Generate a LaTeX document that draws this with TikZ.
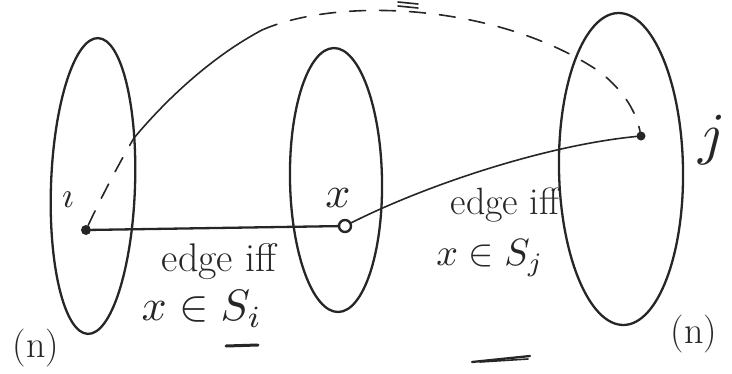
\documentclass[tikz,border=0pt]{standalone}
\usetikzlibrary{shapes.geometric}
\newcommand{\sketchmath}[2]{\scalebox{#1}{$#2$}}
\begin{document}
\begin{tikzpicture}[x=1pt,y=-1pt,
  stroke/.style={line width=2.3pt, line cap=round, color=black!85},
  thin stroke/.style={line width=1.6pt, line cap=round, color=black!85},
  blob/.style={stroke, draw, ellipse, inner sep=0pt},
  vtx/.style={circle, fill=black!85, inner sep=0pt, minimum size=10pt},
  vring/.style={circle, draw=black!85, line width=2.4pt, fill=white, inner sep=0pt, minimum size=12pt},
  dsh/.style={thin stroke, dash pattern=on 16pt off 14pt},
  lbl/.style={inner sep=0pt, text=black!85, font=\normalsize}]
\useasboundingbox (0,0) rectangle (732,373);
% sets
\node[blob, minimum width=84pt, minimum height=296pt, rotate=-2] (L) at (93,186) {};
\node[blob, minimum width=92pt, minimum height=264pt, rotate=1] (M) at (336,180) {};
\node[blob, minimum width=124pt, minimum height=312pt, rotate=1] (R) at (621,169) {};
% vertices
\node[vtx] (i) at (86,230) {};
\node[vring] (x) at (345,226) {};
\node[vtx, minimum size=9pt] (j) at (641,136) {};
% labels
\node[lbl] (li) at (68,200) {\sketchmath{3.6}{\imath}};
\node[lbl] (lx) at (338,198) {\sketchmath{4.4}{x}};
\node[lbl] (lj) at (712,140) {\sketchmath{5.8}{j}};
\node[lbl, font=\fontsize{40}{42}\selectfont] (e1) at (219,262) {edge iff};
\node[lbl] (s1) at (202,309) {\sketchmath{4.4}{x\in S_i}};
\node[lbl, font=\fontsize{38}{40}\selectfont] (e2) at (505,205) {edge iff};
\node[lbl] (s2) at (490,258) {\sketchmath{3.8}{x\in S_j}};
\node[lbl, font=\fontsize{38}{40}\selectfont] (n1) at (36,348) {(n)};
\node[lbl, font=\fontsize{38}{40}\selectfont] (n2) at (694,334) {(n)};
% edges
\draw[stroke] (i) -- (x);
\draw[thin stroke] (x) .. controls (420,188) and (540,146) .. (j);
% dashed long curve
\coordinate (a) at (134,138);
\coordinate (b) at (262,30);
\coordinate (c) at (600,72);
\draw[dsh] (i) .. controls (100,200) and (118,165) .. (a);
\draw[thin stroke] (a) .. controls (170,95) and (215,55) .. (b);
\draw[dsh] (b) .. controls (340,-4) and (500,4) .. (c) .. controls (625,92) and (636,112) .. (j);
% stray marks
\draw[stroke, line width=3pt] (226,346) -- (258,345);
\draw[stroke] (472,362) -- (530,356);
\draw[thin stroke] (480,362) -- (528,359);
\draw[thin stroke] (398,2) -- (418,4);
\draw[thin stroke] (398,6) -- (418,8);
\end{tikzpicture}
\end{document}
